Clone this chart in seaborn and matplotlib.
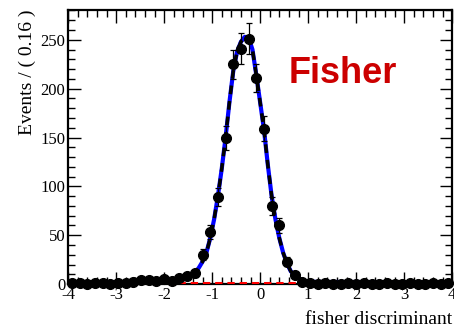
import numpy as np
import pandas as pd
import matplotlib
matplotlib.use("Agg")
import matplotlib.pyplot as plt
import seaborn as sb
from matplotlib.ticker import MultipleLocator

# binned data, 50 bins of 0.16 between -4 and 4
bin_centers = np.round(np.arange(-3.92, 4.0, 0.16), 2)
counts = [1, 1, 0, 1, 1, 0, 1, 1, 2, 4,
          4, 3, 5, 3, 6, 8, 11, 30, 53, 89,
          150, 225, 241, 251, 211, 159, 80, 60, 23, 9,
          2, 1, 0, 1, 0, 0, 1, 0, 1, 0,
          0, 1, 0, 0, 1, 0, 0, 1, 0, 1]

# fitted pdf
curve_x = [-4.0, -2.4, -2.0, -1.84, -1.68, -1.6, -1.52, -1.44, -1.36, -1.28,
           -1.2, -1.12, -1.04, -0.96, -0.88, -0.8, -0.72, -0.64, -0.56, -0.48,
           -0.4, -0.32, -0.24, -0.16, -0.08, 0.0, 0.08, 0.16, 0.24, 0.32,
           0.4, 0.48, 0.56, 0.64, 0.72, 0.8, 0.88, 0.96, 1.04, 1.2, 4.0]
total_y = [2.0, 2.1, 2.6, 3.2, 4.2, 5.0, 6.4, 8.6, 11.8, 16.5,
           23, 32, 47, 66, 90, 118, 150, 186, 218, 238,
           248, 253, 252, 240, 214, 186, 158, 122, 90, 66,
           47, 32, 21, 13, 9.5, 6.2, 4.2, 3.0, 2.5, 2.2, 2.0]
bkg_y = [0.8] * len(curve_x)

df = pd.DataFrame({"x": bin_centers, "n": counts})
curves = pd.DataFrame({"x": curve_x, "total": total_y, "bkg": bkg_y})
curves["sig"] = curves["total"] - curves["bkg"] + 0.8

plt.rcParams["axes.unicode_minus"] = False

fig = plt.figure(figsize=(4.54, 3.30), dpi=100)
ax = fig.add_axes([0.150, 0.139, 0.846, 0.831])

sb.lineplot(data=curves, x="x", y="total", color="blue", lw=3, ax=ax)
sb.lineplot(data=curves, x="x", y="sig", color="black", lw=2.5, ax=ax,
            linestyle=(0, (2.5, 2.0)))
sb.lineplot(data=curves, x="x", y="bkg", color="red", lw=2.2, ax=ax,
            linestyle=(0, (2.4, 1.6)), zorder=4)

ax.errorbar(df["x"], df["n"], yerr=np.sqrt(df["n"]), fmt="o", color="black",
            ms=7, elinewidth=0.9, capsize=2.5, capthick=0.9, clip_on=False,
            zorder=5)

ax.set_xlim(-4, 4)
ax.set_ylim(0, 280.6)
ax.xaxis.set_major_locator(MultipleLocator(1))
ax.xaxis.set_minor_locator(MultipleLocator(0.2))
ax.yaxis.set_major_locator(MultipleLocator(50))
ax.yaxis.set_minor_locator(MultipleLocator(10))
ax.tick_params(which="both", direction="in", top=True, right=True,
               labelsize=12, pad=2, width=1)
ax.tick_params(which="major", length=9)
ax.tick_params(which="minor", length=5)
for lab in ax.get_xticklabels() + ax.get_yticklabels():
    lab.set_family("Liberation Serif")
for sp in ax.spines.values():
    sp.set_linewidth(1.6)

ax.set_xlabel("fisher discriminant", family="Liberation Serif", fontsize=14,
              loc="right", labelpad=6)
ax.set_ylabel("Events / ( 0.16 )", family="Liberation Serif", fontsize=14,
              loc="top", labelpad=3)

ax.text(0.573, 0.735, "Fisher", transform=ax.transAxes, color="#cc0000",
        fontsize=26, fontweight="bold", family="Liberation Sans")

fig.savefig("out.png", dpi=100)
